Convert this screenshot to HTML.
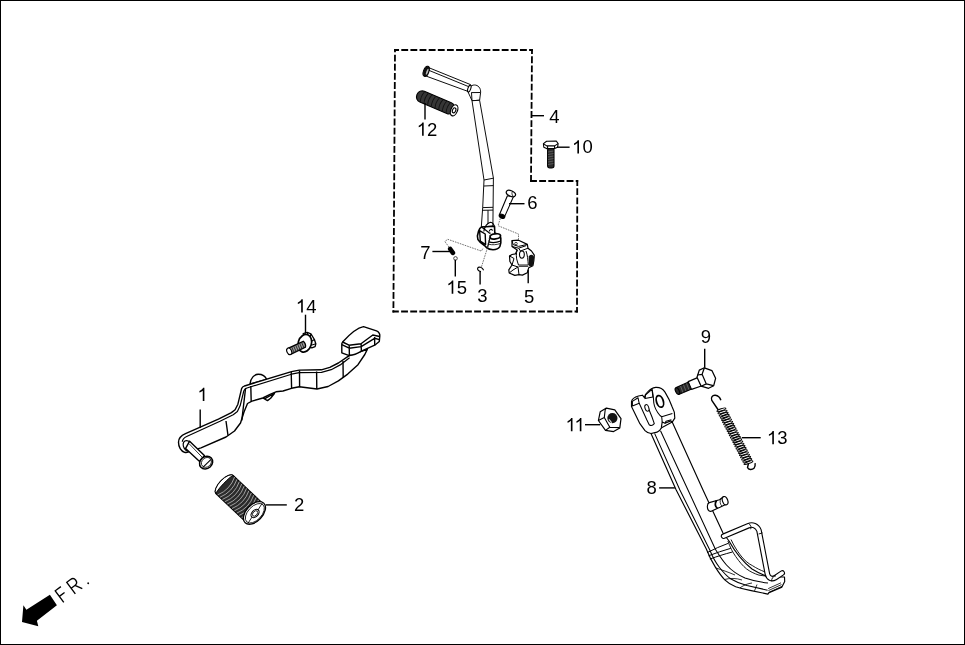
<!DOCTYPE html>
<html><head><meta charset="utf-8"><style>
html,body{margin:0;padding:0;background:#fff;}
svg{display:block;will-change:transform;}
.lb{font-family:"Liberation Sans",sans-serif;font-size:18.5px;fill:#000;}
</style></head><body>
<svg width="965" height="645" viewBox="0 0 965 645">
<rect x="0" y="0" width="965" height="645" fill="#fff"/>
<rect x="0.5" y="0.5" width="964" height="644" fill="none" stroke="#000" stroke-width="1"/>
<g fill="none" stroke="#000" stroke-width="1.8" stroke-dasharray="5.05 4.08" stroke-linecap="square">
<path d="M395,50 L532,50" stroke-dashoffset="1.93"/>
<path d="M532,50 L531,181" stroke-dashoffset="1.93"/>
<path d="M531,181 L577.3,181" stroke-dashoffset="0.03"/>
<path d="M577.3,181 L577,311.5" stroke-dashoffset="0.96"/>
<path d="M577,311.5 L393.4,311.5" stroke-dashoffset="3.53"/>
<path d="M393.4,311.5 L395,50" stroke-dashoffset="4.73"/>
</g>
<!-- ===== KICK STARTER (inside dashed box) ===== -->
<g id="kick" stroke="#000" stroke-width="0.95" stroke-linejoin="round" fill="#fff">
  <!-- peg shaft -->
  <path d="M428.6,67.6 L470.5,84.6 L468.5,91.6 L426.4,76.2 Z"/>
  <path d="M428.8,70.3 L470,87.2" fill="none"/>
  <!-- peg end cap -->
  <ellipse cx="426.2" cy="71.3" rx="2.7" ry="5.3" transform="rotate(20 426.2 71.3)" fill="#111" stroke-width="1"/>
  <ellipse cx="427.2" cy="71.8" rx="0.9" ry="3.2" transform="rotate(20 427.2 71.8)" fill="#bbb" stroke="none"/>
  <!-- knuckle -->
  <path d="M468.5,93 C467.5,88 471,85 474.5,85 C478,85 481,88 480.6,92.5 L479.6,100.3 L472,100.7 C471,98 469.5,95.5 468.5,93 Z"/>
  <ellipse cx="469.3" cy="88.6" rx="1.4" ry="3.6" transform="rotate(20 469.3 88.6)" stroke-width="1.1"/>
  <path d="M471.3,92.6 L480.6,92.5 M472,100.7 L479.6,100.3 M471.5,92.6 L472,100.7" fill="none"/>
  <!-- arm -->
  <path d="M472,100.7 L484,180 L482.7,207.7 L481.3,227 L492.9,226 L493.4,178 L479.6,100.3 Z"/>
  <path d="M484,180 L493.4,178.2 M484,186 L493.3,185.6 M482.7,207.6 L493,207.3 M482.6,210.3 L493,210.1 M488,210.3 L488,224" fill="none"/>
  <!-- hub -->
  <path d="M481.5,227 L479.9,228.3 L478.6,231 L477.4,236 L477.9,239.5 L480,242 L484.5,245.5 L486.6,247.6 C488,248.8 490,249.6 493,249.7 C496,249.6 498.5,248.6 499.8,246.6 C500.8,244.5 501.1,241 500.8,238 C500.5,236.3 499.6,235.2 497.2,233.9 L494.8,233 L494.5,226.2 Z" stroke-width="1.6"/>
  <path d="M483.8,231.5 C484.5,226.5 487.5,222.8 490.5,222.2 C493,222.3 494.2,224.5 494.6,228" fill="none" stroke-width="1.1"/>
  <path d="M479.6,230.6 L485.2,234 L485.6,244.6 L480.3,241 Z" fill="none" stroke-width="1.4"/>
  <path d="M481.5,227 L486.5,230.8 L490,233.5" fill="none" stroke-width="1.1"/>
  <ellipse cx="495.3" cy="236.4" rx="5.3" ry="2.5" transform="rotate(-8 495.3 236.4)" stroke-width="1.7"/>
  <path d="M490.1,237.2 L487.6,247.4 M488.8,241.9 C492,242.8 497,242.5 500.7,241" fill="none" stroke-width="1.2"/>
  <path d="M488.5,244.2 C492,245.2 497,244.8 500.5,243.4" fill="none" stroke-width="0.8"/>
  <path d="M489.2,231.6 C489.3,229.2 491.8,228.6 492.6,230.6" fill="none" stroke-width="1.1"/>
</g>

<!-- grip 12 -->
<g id="grip12">
  <g transform="translate(438.1,103.5) rotate(23.1)">
    <rect x="-22.9" y="-5.8" width="40.3" height="11.6" rx="5.5" fill="#363636" stroke="#000" stroke-width="1.1"/>
    <g stroke="#111" stroke-width="0.9" fill="none">
      <path d="M-17,-5.5 q-2,5.5 0,11"/>
      <path d="M-13,-5.5 q-2,5.5 0,11"/>
      <path d="M-9,-5.5 q-2,5.5 0,11"/>
      <path d="M-5,-5.5 q-2,5.5 0,11"/>
      <path d="M-1,-5.5 q-2,5.5 0,11"/>
      <path d="M3,-5.5 q-2,5.5 0,11"/>
      <path d="M7,-5.5 q-2,5.5 0,11"/>
      <path d="M11,-5.5 q-2,5.5 0,11"/>
    </g>
    <ellipse cx="17.4" cy="0" rx="3.3" ry="5.8" fill="#fff" stroke="#000" stroke-width="1.2"/>
    <ellipse cx="17.4" cy="0" rx="1.6" ry="2.6" fill="#fff" stroke="#000" stroke-width="1.1"/>
  </g>
</g>

<!-- bolt 10 -->
<g id="bolt10" stroke="#000" stroke-width="1.1" fill="#fff" stroke-linejoin="round">
  <rect x="547.6" y="148" width="6.4" height="20" rx="2.2" fill="#2b2b2b"/>
  <g stroke="#777" stroke-width="0.6">
    <path d="M548,152 L553.5,151 M548,154.5 L553.5,153.5 M548,157 L553.5,156 M548,159.5 L553.5,158.5 M548,162 L553.5,161 M548,164.5 L553.5,163.5"/>
  </g>
  <path d="M543.4,143.6 L546.6,141.2 L556.3,141 L558.1,143.6 L557.6,147.3 L554.6,148.6 L546.6,148.6 L543.8,147.3 Z"/>
  <path d="M543.4,143.6 L546.6,145.9 L554.6,145.9 L558.1,143.6 M547.6,145.9 V148.6 M554.6,145.9 V148.6" fill="none"/>
</g>

<!-- pin 6 -->
<g id="pin6" stroke="#000" stroke-width="1.1" fill="#fff" stroke-linejoin="round">
  <path d="M507.4,195.8 L513.6,196.4 L504.6,216.6 L499.3,215 Z"/>
  <ellipse cx="510.9" cy="193.5" rx="4.9" ry="2.7" transform="rotate(24 510.9 193.5)" stroke-width="1.2"/>
  <path d="M512.6,191.3 C511.6,192.6 511.8,194.8 513,196" fill="none" stroke-width="0.8"/>
  <ellipse cx="502" cy="216.2" rx="2.9" ry="1.9" transform="rotate(25 502 216.2)" fill="#000"/>
</g>

<!-- part 5 -->
<g id="part5" stroke="#000" stroke-width="1.2" fill="#fff" stroke-linejoin="round">
  <path d="M512,240.6 L518.6,240.2 L527.3,244.4 L528,248.2 L531.5,251 L534.3,255.2 L533.8,261 L532.9,265.7 L528.7,267.8 L527.3,272.7 L522.4,275.1 L519,274.7 L514.8,275.4 L509.2,273 L508.8,269.9 L512,265 L509.9,261.5 L509.5,255.9 L512,254.5 L515.5,253.8 L517.2,250 L512,246.5 Z"/>
  <path d="M512,246.5 L518.6,248.2 L526.3,245.6 M518.6,248.2 L520.5,251 L528,248.2 M512,240.6 L513.2,244.6 L518.6,246.4 L527.3,244.4" fill="none" stroke-width="1"/>
  <path d="M517.2,250 C516,253 516,258 517.5,262 L518.5,265 M526,251 C527.5,255 528,260 528.3,265" fill="none" stroke-width="1"/>
  <ellipse cx="521.9" cy="254.6" rx="2.4" ry="3.6" fill="#fff" stroke-width="1.1"/>
  <path d="M518.5,265 L528.3,265 M518.5,266.3 L528.3,266.3" fill="none" stroke-width="0.9"/>
  <path d="M512,265 L518,267 L519,274.7 M509.5,255.9 L514,258.5 L512,265 M509.2,273 L513,270 L518,267" fill="none" stroke-width="1"/>
  <path d="M528.7,256.2 C531,254 533.5,254.5 534.2,257.5 L533.2,264.5 C532,266.8 529.8,267.2 528.9,265.6 Z" fill="#111" stroke="none"/>
  <circle cx="516" cy="243.6" r="1.3" fill="none" stroke-width="0.7"/>
</g>

<!-- spring 7 / washer 15 / circlip 3 -->
<path d="M450.2,249 L452.9,252.9" stroke="#000" stroke-width="4.6" stroke-linecap="round"/>
<circle cx="455.5" cy="258.4" r="1.8" fill="#fff" stroke="#333" stroke-width="0.9"/>
<path d="M483.6,270.2 C482.5,267 478.5,266.3 477.6,268.3 C477.2,270 479.3,271.3 481,271.6" fill="none" stroke="#000" stroke-width="1.1"/>

<!-- dotted assembly lines -->
<g fill="none" stroke="#333" stroke-width="0.7" stroke-dasharray="1.6 1">
  <path d="M500.3,218.5 L498,225.7 L518.5,234 L518.5,240.5"/>
  <path d="M449,247 L444.8,241.5 L447.8,239.3 L481.4,251.1 L483.2,248"/>
  <path d="M490.5,232.5 L486.8,250 L481.4,267"/>
</g>

<!-- ===== GEAR SHIFT PEDAL 1 ===== -->
<g id="shift" stroke="#000" stroke-width="1.4" fill="#fff" stroke-linejoin="round">
  <!-- pivot boss behind -->
  <path d="M250,384 C250.5,378 254.5,374.3 258.2,374.3 C262,374.3 265.5,376.5 266.7,379.5 Z"/>
  <!-- arm -->
  <path d="M351.2,354.9 L347.7,356.6 L338.4,363 L329.8,367.3 L321.3,369.8 L299.3,370.1 L291.5,371.6 L244.4,386 L242.6,387 L241.6,388.6 L237.9,404.2 L235.1,409.8 L231.4,412.6 L218.4,419.1 L185.5,433.6 C181,435.5 178.5,438.5 178.5,442.2 C178.5,447 181,451.3 184.5,452.3 C186.5,452.7 188.5,452.2 190,451.2 L201,447.8 L226,437 L234.5,431 L240.5,423 L244,412 L247.5,403.5 L252,401.1 L262.8,398 L270.6,394.1 L276,391.8 L283,391 L291.5,388.3 L299.3,386.7 L317,389 L328.1,386.5 L338.4,380.9 L347.7,374.1 L358,364.7 L364.8,354.5 L367.3,349.4 Z"/>
  <path d="M349.6,357.8 L340.2,364.9 L331.2,369.7 L321.5,372.4 L299.3,372.7 L291.5,374.2 L246.2,388.2 L244.6,389.6 L243.8,391 L240.2,405.6 L237.4,411.6 L233.2,414.8 L220,421.3 L187.2,436.2 C183.6,437.9 182.3,439.8 182.3,441.8" fill="none" stroke-width="1.2"/>
  <path d="M291.2,372 L291.6,388.3 M299.5,370.5 L299.6,386.7 M316.6,371.5 L316.8,389 M343,361 L343.2,377.8 M250.8,386 L251.2,401.4 M245.6,388 L241.8,420.5 M226,421 L228,435.5" fill="none"/>
  <!-- small ear under arm -->
  <path d="M262.8,398 L267.5,400.6 L270.6,398.2 L274.8,393 M264.5,398.8 L274.8,393" fill="none"/>
  <!-- peg -->
  <ellipse cx="187.8" cy="446" rx="4.2" ry="5.8" transform="rotate(-30 187.8 446)" stroke-width="1.2"/>
  <path d="M189.6,441.2 L204.4,455.6 L199.6,461.4 L185.6,448.4 Z"/>
  <path d="M189.2,443.8 L202.3,457.4" fill="none" stroke-width="0.8"/>
  <ellipse cx="206.1" cy="462.6" rx="7" ry="6" transform="rotate(-42 206.1 462.6)" stroke-width="1.5"/>
  <ellipse cx="206.4" cy="462.4" rx="5.4" ry="4.5" transform="rotate(-42 206.4 462.4)" fill="none" stroke-width="0.8"/>
  <path d="M202.6,467.6 L210.8,459.6" fill="none" stroke-width="1.1"/>
  <!-- pad -->
  <path d="M342.6,342 C348,336 356,328 363.5,326.6 L376.5,330.8 C379,332 380,334 379.8,336 L379.3,341.5 L374.7,345.2 L361.4,351.2 C357,354 352.5,355.5 348.6,355.3 L341.8,352.8 L341.8,343.8 Z"/>
  <path d="M342.6,342 L349,345.2 L361,343.8 L372.8,335 L379.6,336.5 M341.8,344.6 L349.2,348.2 L361.2,346.6 L374.6,338.3 L379.4,339.6 M349.2,345.2 L349.4,355.6 M361.1,343.9 L361.4,351.2 M374.6,335.5 L374.7,345.2" fill="none"/>
</g>

<!-- bolt 14 -->
<g id="bolt14" stroke="#000" stroke-width="1.35" fill="#fff" stroke-linejoin="round">
  <path d="M303.2,333.6 L307.2,332.4 L310.9,333.8 L314.4,339.5 L315.8,343.8 L315.1,346.6 L311.8,347.8 L306,346 Z"/>
  <path d="M307.4,332.6 L308,335.6 M310.9,333.8 L310.2,337.4 M314.4,339.5 L311.6,341.2 M315.8,343.8 L312,345" fill="none" stroke-width="1.15"/>
  <ellipse cx="304.8" cy="343.3" rx="6.6" ry="9" transform="rotate(18 304.8 343.3)" stroke-width="1.7"/>
  <path d="M303.3,341.3 L287.9,348.3 L290.6,354.3 L305.4,347.2 C306,345.5 305,342.2 303.3,341.3 Z" fill="#9a9a9a"/>
  <g stroke="#1a1a1a" stroke-width="0.85">
    <path d="M291.6,346.8 L294.2,352.6 M293.6,345.9 L296.2,351.7 M295.6,345 L298.2,350.8 M297.6,344.1 L300.2,349.9 M299.6,343.2 L302.2,349 M301.6,342.3 L304,347.9"/>
  </g>
  <ellipse cx="289.2" cy="351.3" rx="2.3" ry="3.4" transform="rotate(-25 289.2 351.3)" stroke-width="1.1"/>
</g>

<!-- rubber 2 -->
<g id="rubber2">
  <g transform="translate(239.6,498.8) rotate(43.5)">
    <path d="M-20.5,-12.6 L20.5,-12.6 L20.5,12.6 L-20.5,12.6 A5.4,12.6 0 0 1 -20.5,-12.6 Z" fill="#2b2b2b" stroke="#000" stroke-width="1.1"/>
    <path d="M-20.5,-12.6 A5.4,12.6 0 0 0 -20.5,12.6 A1.6,12.6 0 0 1 -20.5,-12.6 Z" fill="#fff" stroke="#000" stroke-width="0.9"/>
    <g stroke="#b4b4b4" stroke-width="0.8" fill="none">
      <path d="M-18.6,-12.3 q5.5,12.3 0,24.6"/>
      <path d="M-15.3,-12.3 q5.5,12.3 0,24.6"/>
      <path d="M-12.0,-12.3 q5.5,12.3 0,24.6"/>
      <path d="M-8.7,-12.3 q5.5,12.3 0,24.6"/>
      <path d="M-5.4,-12.3 q5.5,12.3 0,24.6"/>
      <path d="M-2.1,-12.3 q5.5,12.3 0,24.6"/>
      <path d="M1.2,-12.3 q5.5,12.3 0,24.6"/>
      <path d="M4.5,-12.3 q5.5,12.3 0,24.6"/>
      <path d="M7.8,-12.3 q5.5,12.3 0,24.6"/>
      <path d="M11.1,-12.3 q5.5,12.3 0,24.6"/>
      <path d="M14.4,-12.3 q5.5,12.3 0,24.6"/>
    </g>
    <ellipse cx="20.5" cy="0" rx="8.2" ry="13.5" fill="#fff" stroke="#000" stroke-width="1.3"/>
    <ellipse cx="21" cy="0" rx="6.8" ry="11.8" fill="none" stroke="#000" stroke-width="0.8"/>
    <ellipse cx="21.3" cy="0" rx="3.2" ry="4.8" fill="#fff" stroke="#000" stroke-width="1.1"/>
    <ellipse cx="21.3" cy="0" rx="2" ry="3.2" fill="none" stroke="#000" stroke-width="0.8"/>
    <path d="M19.2,-13.2 L21,-4.8 M21.6,4.8 L23,12.2" fill="none" stroke="#000" stroke-width="0.8"/>
  </g>
</g>

<!-- ===== SIDE STAND 8 ===== -->
<g id="stand" stroke="#000" stroke-width="1.15" fill="#fff" stroke-linejoin="round">
  <!-- leg body -->
  <path d="M651,433.5 L676.2,490 L706.2,548.8 C709,556 712,562 715.5,567.4 C719,573 721,576 724.8,579.8 C728,583 731.5,585 735.7,586.7 C741,588.5 746,589.6 751.2,590.6 L767.9,594.1 L769,592.6 L781.9,587.1 L784.7,581.5 L784.5,577 L770,577 C766,576 760,574 752,569 C742,561 734,550 729,541 L723,533 L703,490 L672.2,421.9 Z"/>
  <path d="M654.6,433.4 L679.9,490 L709.8,550 C713,558 716,563 719.3,567.2 C723,572 726.5,576 731,579 C736,582 741,584 747,585.6 L767.6,590.2" fill="none" stroke-width="1.05"/>
  <path d="M660.5,430.8 L688,490 L715.5,549.5 C719,555 722,560 726.5,565 C732,571 738,575 745,578 C752,580.5 759,582 768,583" fill="none" stroke-width="1.05"/>
  <path d="M707.2,552.6 C714,549 721,546 728.3,543.3 M708.5,555.8 C716,553 723,550.5 730.8,548.3 M709.9,559 C717,556.5 724,554.2 732.4,552" fill="none" stroke-width="1"/>
  <path d="M727.9,541 C730,547 732.5,552 735.7,556.5 C739.5,562 743,566 746.5,568.9 C750,571.5 754,573.5 758.9,575.1 L769.8,576.7 M731,539.5 C734,546 737,550.5 740.3,555 C744,560 748,563.5 752.7,565.8 C756,568 760,570 765.1,572" fill="none" stroke-width="0.9"/>
  <path d="M716,568 C722,570 728,572 735,575 M724.5,579.5 C730,578 736,578 742,580 M740,587.8 C744,585 748,583.5 752,583 M754.5,590.9 L757,584.5" fill="none" stroke-width="0.8"/>
  <path d="M768.6,592.6 L782,586.3 M768.4,590.6 L781.5,584.6 M768.2,588.6 L781,582.8" fill="none" stroke-width="0.8"/>
  <!-- clevis -->
  <path d="M631.5,406.5 L631.5,401.5 C632,399 635,397 638.5,396 L642.4,395.2 L644.4,397.6 L645.4,394.6 L647.6,392 C649.5,389.8 652,387.8 655.7,387.4 C659.5,387.2 663,389 665,392.1 C668,397 670.5,402 672,406.5 L674.3,412.1 L674.8,418.1 L672.4,421.9 L670.8,420.9 L665,423.3 L662.2,421.9 L661.3,427.9 C660,430.5 658.5,431.8 657.1,432.1 L651,433.5 C648.5,433.3 646.5,432.3 645,430.7 L639.9,423.7 Z"/>
  <path d="M632.4,406 L632.4,401.4 L638,397.7 L639.2,403.3 Z M639.2,403.3 L646.9,420 L649.2,424.7 C650.5,425.6 652.5,425.8 654.3,423.7 L652,417 L647.5,406" fill="none" stroke-width="1.05"/>
  <path d="M645,398.6 L645.6,394.9 L652,389.3 L652.9,397 Z" fill="none" stroke-width="1.05"/>
  <path d="M652,389.3 C653,393 653.5,398 653.8,403 C654.5,408 657,412 660,415.5 L661.7,416.7 M661.7,416.7 L672.4,413.5 M661.7,416.7 L662.2,421.9 M665,423.3 L666,421.2 L671.4,419.8" fill="none" stroke-width="1.05"/>
  <ellipse cx="659.9" cy="401.4" rx="3.4" ry="6" transform="rotate(-18 659.9 401.4)" stroke-width="1.8"/>
  <ellipse cx="646.9" cy="407.9" rx="1.9" ry="3.4" transform="rotate(-18 646.9 407.9)" stroke-width="1"/>
  <!-- small pin on leg -->
  <path d="M709.3,502.6 L719.5,499.8 L723.5,496.8 L725.6,504.5 L720,507.2 L710.7,511.4 C708.5,511.5 707.2,509 707.4,506 C707.5,504 708.2,503 709.3,502.6 Z"/>
  <path d="M716.5,500.6 C714.5,503 715,507 717.5,508.3" fill="none" stroke-width="1.8"/>
  <path d="M721,498.5 C719.5,501 720,504.5 722,506" fill="none" stroke-width="0.8"/>
  <ellipse cx="725.1" cy="500.7" rx="2.6" ry="4.3" transform="rotate(-20 725.1 500.7)"/>
  <!-- wire foot bracket -->
  <path d="M723.6,536.2 L748.2,525.8 C752.5,524 757,525.5 759,530.5 L767.4,574 C768.3,578.2 771.8,579.6 775,577.8 L782.2,573" fill="none" stroke="#000" stroke-width="5.6" stroke-linecap="round"/>
  <path d="M723.6,536.2 L748.2,525.8 C752.5,524 757,525.5 759,530.5 L767.4,574 C768.3,578.2 771.8,579.6 775,577.8 L782.2,573" fill="none" stroke="#fff" stroke-width="3.4" stroke-linecap="round"/>
  <path d="M748.6,523.3 C751,525.5 751.6,527.5 750.6,529.2 M758.6,534 L762.5,532.9 M771.6,581.3 C771.5,578.5 773,576 776,575.8" fill="none" stroke-width="0.9"/>
</g>

<!-- bolt 9 -->
<g id="bolt9" stroke="#000" stroke-width="1.15" fill="#fff" stroke-linejoin="round">
  <path d="M676.2,387.6 L688.6,382 L691.7,388.9 L678.7,394.5 Z" fill="#2a2a2a"/>
  <g stroke="#888" stroke-width="0.6"><path d="M680.5,386 L683,392.5 M683.5,384.7 L686,391.2 M686.5,383.4 L689,389.9"/></g>
  <ellipse cx="677.4" cy="391" rx="1.8" ry="3.6" transform="rotate(-25 677.4 391)" fill="#2a2a2a"/>
  <path d="M688.2,381.6 L697.6,377.6 L701.4,386 L691.5,389.4 Z"/>
  <path d="M704.4,367.8 L711.9,370.6 L715.6,378.3 L713.7,385.7 L708.6,388.3 L701.2,386.2 L697,377.3 L699.3,370.1 Z" stroke-width="1.25"/>
  <path d="M704.4,367.8 L702.1,374.3 L697.4,375 M702.1,374.3 L706.3,383.9 L713.3,385.7 M706.3,383.9 L701.2,386.2" fill="none" stroke-width="1.2"/>
</g>

<!-- nut 11 -->
<g id="nut11" stroke="#000" stroke-width="1.2" fill="#fff" stroke-linejoin="round">
  <path d="M606.4,408.1 L614.8,409.9 L621,418.6 L619.8,427.9 L613.6,431.6 L605.5,430.4 L598.4,420.5 L600.2,411.8 Z"/>
  <path d="M606.4,408.1 L605.2,409.8 L604.3,417.4 L598.4,420.5 M604.3,417.4 L609.8,427.3 L605.5,430.4 M609.8,427.3 L619.6,427.6" fill="none" stroke-width="1.1"/>
  <circle cx="612.4" cy="418.1" r="5.1" fill="#151515" stroke="none"/>
  <path d="M609.2,419.6 L611.4,422.4" stroke="#ddd" stroke-width="1.1" stroke-linecap="round"/>
</g>

<!-- spring 13 -->
<g id="spring13" fill="none" stroke="#000" stroke-width="1.4">
  <path d="M718.3,410 L711.8,400.5 C710.5,397.5 712.5,395 715.3,395.3 C718,395.6 720,397.5 720.9,400.3"/>
  <path d="M748.5,463.5 L747.5,467.5 C748.5,470 752,470 754,468.3 C755.5,466.5 755.3,464.5 755.1,463.1"/>
  <g stroke-width="1.05"><ellipse cx="721.40" cy="409.80" rx="1.0" ry="4.7" transform="rotate(70.9 721.40 409.80)"/><ellipse cx="722.52" cy="412.00" rx="1.0" ry="4.7" transform="rotate(70.9 722.52 412.00)"/><ellipse cx="723.65" cy="414.20" rx="1.0" ry="4.7" transform="rotate(70.9 723.65 414.20)"/><ellipse cx="724.77" cy="416.40" rx="1.0" ry="4.7" transform="rotate(70.9 724.77 416.40)"/><ellipse cx="725.90" cy="418.60" rx="1.0" ry="4.7" transform="rotate(70.9 725.90 418.60)"/><ellipse cx="727.02" cy="420.80" rx="1.0" ry="4.7" transform="rotate(70.9 727.02 420.80)"/><ellipse cx="728.15" cy="423.00" rx="1.0" ry="4.7" transform="rotate(70.9 728.15 423.00)"/><ellipse cx="729.27" cy="425.20" rx="1.0" ry="4.7" transform="rotate(70.9 729.27 425.20)"/><ellipse cx="730.40" cy="427.40" rx="1.0" ry="4.7" transform="rotate(70.9 730.40 427.40)"/><ellipse cx="731.52" cy="429.60" rx="1.0" ry="4.7" transform="rotate(70.9 731.52 429.60)"/><ellipse cx="732.65" cy="431.80" rx="1.0" ry="4.7" transform="rotate(70.9 732.65 431.80)"/><ellipse cx="733.77" cy="434.00" rx="1.0" ry="4.7" transform="rotate(70.9 733.77 434.00)"/><ellipse cx="734.90" cy="436.20" rx="1.0" ry="4.7" transform="rotate(70.9 734.90 436.20)"/><ellipse cx="736.02" cy="438.40" rx="1.0" ry="4.7" transform="rotate(70.9 736.02 438.40)"/><ellipse cx="737.15" cy="440.60" rx="1.0" ry="4.7" transform="rotate(70.9 737.15 440.60)"/><ellipse cx="738.27" cy="442.80" rx="1.0" ry="4.7" transform="rotate(70.9 738.27 442.80)"/><ellipse cx="739.40" cy="445.00" rx="1.0" ry="4.7" transform="rotate(70.9 739.40 445.00)"/><ellipse cx="740.52" cy="447.20" rx="1.0" ry="4.7" transform="rotate(70.9 740.52 447.20)"/><ellipse cx="741.65" cy="449.40" rx="1.0" ry="4.7" transform="rotate(70.9 741.65 449.40)"/><ellipse cx="742.77" cy="451.60" rx="1.0" ry="4.7" transform="rotate(70.9 742.77 451.60)"/><ellipse cx="743.90" cy="453.80" rx="1.0" ry="4.7" transform="rotate(70.9 743.90 453.80)"/><ellipse cx="745.02" cy="456.00" rx="1.0" ry="4.7" transform="rotate(70.9 745.02 456.00)"/><ellipse cx="746.15" cy="458.20" rx="1.0" ry="4.7" transform="rotate(70.9 746.15 458.20)"/><ellipse cx="747.27" cy="460.40" rx="1.0" ry="4.7" transform="rotate(70.9 747.27 460.40)"/><ellipse cx="748.40" cy="462.60" rx="1.0" ry="4.7" transform="rotate(70.9 748.40 462.60)"/></g>
</g>

<!-- FR arrow -->
<path d="M22,622.1 L23.4,605.3 L26.4,609.8 L49.9,594.7 L56.9,605.3 L36.9,620.7 L38.3,626.3 Z" fill="#000"/>
<g transform="translate(63.8,602.4) rotate(-36.5)" fill="none" stroke="#000" stroke-width="1.35">
  <path d="M0,0 V-14.4 H7 M0,-7.5 H6.5"/>
  <path d="M14.35,0 V-14.4 H19 C22.3,-14.4 22.8,-12 22.8,-10.7 C22.8,-8.8 21.5,-7 19,-7 H14.35 M19,-7 L23,0"/>
  <circle cx="31" cy="-0.9" r="0.95" fill="#000" stroke="none"/>
</g>

<g fill="none" stroke="#000" stroke-width="1.4">
<path d="M531.5,115.7 H544"/>
<path d="M557,147.2 H569.6"/>
<path d="M425,103 V119.4"/>
<path d="M509,203.7 H524.5"/>
<path d="M432.4,251.5 H450"/>
<path d="M455.3,259.8 V276.5"/>
<path d="M480.1,271.6 V284.6"/>
<path d="M528.2,269.7 V283.3"/>
<path d="M305.5,314.7 V333.7"/>
<path d="M200.2,409.5 V428.1"/>
<path d="M265.7,504.9 H286.8"/>
<path d="M704.7,348.8 V367.8"/>
<path d="M585,424.7 H600.3"/>
<path d="M741.8,437.7 H760.7"/>
<path d="M659.1,487.9 H674.9"/>
</g>
<text x="549.20" y="122.60" class="lb">4</text>
<path d="M763,0 L583,0 L583,1147 C540,1106 483,1065 413,1024 C343,983 280,952 213,931 L213,1105 C316,1149 398,1202 468,1264 C538,1326 588,1386 617,1466 L763,1466 Z" transform="translate(572.10,153.40) scale(0.00903,-0.00903)" fill="#000"/>
<text x="582.39" y="153.40" class="lb">0</text>
<path d="M763,0 L583,0 L583,1147 C540,1106 483,1065 413,1024 C343,983 280,952 213,931 L213,1105 C316,1149 398,1202 468,1264 C538,1326 588,1386 617,1466 L763,1466 Z" transform="translate(416.80,135.70) scale(0.00903,-0.00903)" fill="#000"/>
<text x="427.09" y="135.70" class="lb">2</text>
<text x="527.20" y="209.30" class="lb">6</text>
<text x="420.30" y="258.50" class="lb">7</text>
<path d="M763,0 L583,0 L583,1147 C540,1106 483,1065 413,1024 C343,983 280,952 213,931 L213,1105 C316,1149 398,1202 468,1264 C538,1326 588,1386 617,1466 L763,1466 Z" transform="translate(446.40,293.70) scale(0.00903,-0.00903)" fill="#000"/>
<text x="456.69" y="293.70" class="lb">5</text>
<text x="477.30" y="301.70" class="lb">3</text>
<text x="524.00" y="302.50" class="lb">5</text>
<path d="M763,0 L583,0 L583,1147 C540,1106 483,1065 413,1024 C343,983 280,952 213,931 L213,1105 C316,1149 398,1202 468,1264 C538,1326 588,1386 617,1466 L763,1466 Z" transform="translate(295.90,312.50) scale(0.00903,-0.00903)" fill="#000"/>
<text x="306.19" y="312.50" class="lb">4</text>
<path d="M763,0 L583,0 L583,1147 C540,1106 483,1065 413,1024 C343,983 280,952 213,931 L213,1105 C316,1149 398,1202 468,1264 C538,1326 588,1386 617,1466 L763,1466 Z" transform="translate(197.50,401.00) scale(0.00903,-0.00903)" fill="#000"/>
<text x="294.00" y="510.90" class="lb">2</text>
<text x="700.70" y="343.00" class="lb">9</text>
<path d="M763,0 L583,0 L583,1147 C540,1106 483,1065 413,1024 C343,983 280,952 213,931 L213,1105 C316,1149 398,1202 468,1264 C538,1326 588,1386 617,1466 L763,1466 Z" transform="translate(565.60,431.20) scale(0.00903,-0.00903)" fill="#000"/>
<path d="M763,0 L583,0 L583,1147 C540,1106 483,1065 413,1024 C343,983 280,952 213,931 L213,1105 C316,1149 398,1202 468,1264 C538,1326 588,1386 617,1466 L763,1466 Z" transform="translate(574.52,431.20) scale(0.00903,-0.00903)" fill="#000"/>
<path d="M763,0 L583,0 L583,1147 C540,1106 483,1065 413,1024 C343,983 280,952 213,931 L213,1105 C316,1149 398,1202 468,1264 C538,1326 588,1386 617,1466 L763,1466 Z" transform="translate(767.00,444.30) scale(0.00903,-0.00903)" fill="#000"/>
<text x="777.29" y="444.30" class="lb">3</text>
<text x="646.60" y="493.90" class="lb">8</text>
</svg>
</body></html>
